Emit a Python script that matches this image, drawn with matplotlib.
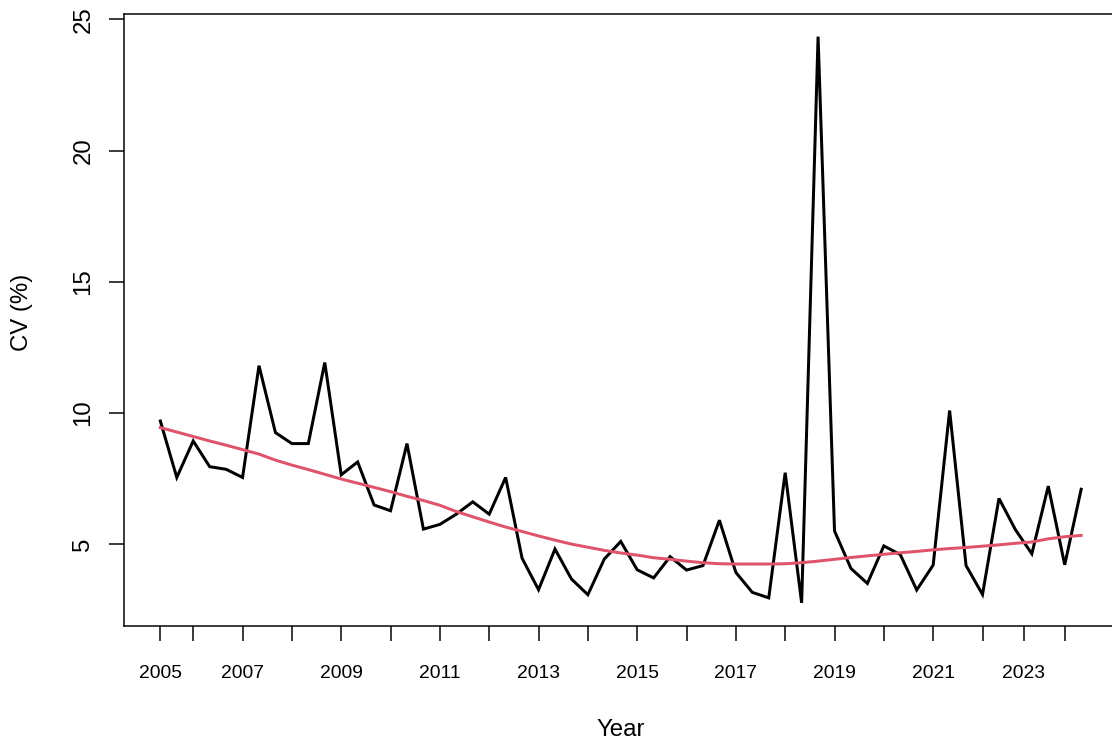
import matplotlib
matplotlib.use("Agg")
import matplotlib.pyplot as plt
import numpy as np

plt.rcParams["font.family"] = ["Liberation Sans", "DejaVu Sans"]

# Coefficient of variation per sampling period (three per year)
cv_values = [
    9.69, 7.54, 8.93, 7.95, 7.85, 7.54, 11.80, 9.25, 8.83, 8.83,
    11.92, 7.64, 8.13, 6.49, 6.27, 8.83, 5.57, 5.75, 6.14, 6.61,
    6.14, 7.54, 4.46, 3.26, 4.81, 3.67, 3.07, 4.43, 5.10, 4.02,
    3.71, 4.52, 4.01, 4.18, 5.91, 3.92, 3.16, 2.95, 7.72, 2.76,
    24.34, 5.50, 4.07, 3.50, 4.93, 4.60, 3.25, 4.20, 10.09, 4.18,
    3.08, 6.74, 5.55, 4.63, 7.21, 4.21, 7.09,
]

# Smoothed trend of the same series
trend_values = [
    9.44, 9.27, 9.10, 8.93, 8.77, 8.60, 8.43, 8.20, 8.01, 7.84,
    7.66, 7.48, 7.32, 7.16, 7.00, 6.82, 6.66, 6.48, 6.24, 6.04,
    5.84, 5.65, 5.48, 5.31, 5.15, 5.00, 4.88, 4.76, 4.66, 4.58,
    4.48, 4.42, 4.35, 4.29, 4.25, 4.24, 4.24, 4.24, 4.25, 4.29,
    4.35, 4.42, 4.49, 4.55, 4.61, 4.67, 4.72, 4.78, 4.83, 4.87,
    4.92, 4.97, 5.03, 5.08, 5.20, 5.28, 5.33,
]

# Year tick positions along the observation index
year_tick_pos = [0, 2, 5, 8, 11, 14, 17, 20, 23, 26, 29, 32, 35, 38, 41,
                 44, 47, 50, 52.5, 55]
year_tick_labels = ["2005", "", "2007", "", "2009", "", "2011", "", "2013", "",
                    "2015", "", "2017", "", "2019", "", "2021", "", "2023", ""]
y_ticks = [5, 10, 15, 20, 25]

W, H, DPI = 1112, 749, 144
fig = plt.figure(figsize=(W / DPI, H / DPI), dpi=DPI)
left_px, right_px, top_px, bottom_px = 123.5, 1118.0, 14.0, 625.5
ax = fig.add_axes([left_px / W, (H - bottom_px) / H,
                   (right_px - left_px) / W, (bottom_px - top_px) / H])

idx = np.arange(len(cv_values))
ax.plot(idx, cv_values, color="black", lw=1.5, solid_joinstyle="miter")
ax.plot(idx, trend_values, color="#DF536B", lw=1.5)

ax.margins(x=0.04, y=0.04)

ax.set_xticks(year_tick_pos)
ax.set_xticklabels(year_tick_labels, fontsize=9.6)
ax.set_yticks(y_ticks)
ax.set_yticklabels([str(v) for v in y_ticks], rotation=90, va="center",
                   fontsize=12)

for s in ax.spines.values():
    s.set_linewidth(0.75)
    s.set_color("black")
ax.tick_params(axis="both", length=7.5, width=0.75,
               direction="out", colors="black")
ax.tick_params(axis="x", pad=12)
ax.tick_params(axis="y", pad=7)

cx = (left_px + right_px) / 2
fig.text(cx / W, 1 - 730 / H, "Year", ha="center", va="center", fontsize=12)
fig.text(22 / W, 1 - 312 / H, "CV (%)", ha="center", va="center",
         rotation=90, fontsize=12)

fig.savefig("out.png", dpi=DPI)
